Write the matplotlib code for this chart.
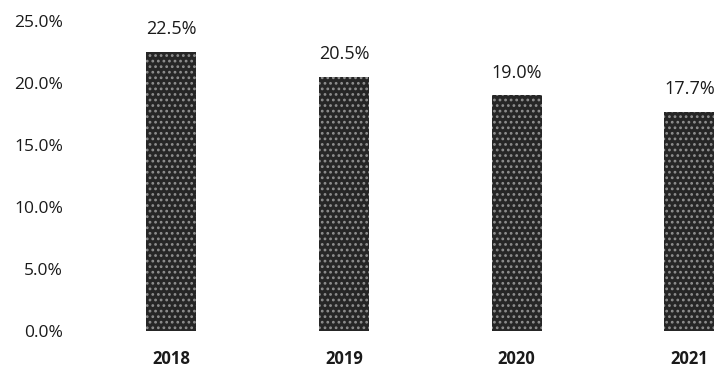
import matplotlib
matplotlib.use("Agg")
import matplotlib.pyplot as plt
from matplotlib.ticker import FuncFormatter

years = ["2018", "2019", "2020", "2021"]
shares = [22.5, 20.5, 19.0, 17.7]
y_ticks = [0, 5, 10, 15, 20, 25]

plt.rcParams["font.family"] = ["Open Sans", "DejaVu Sans"]
plt.rcParams["hatch.linewidth"] = 1.2

fig = plt.figure(figsize=(7.24, 3.69), dpi=100)
ax = fig.add_axes([0.11, 0.103, 0.89, 0.840])

x = list(range(len(years)))
bars = ax.bar(x, shares, width=0.29, color="#262626", edgecolor="#8f8f8f",
              hatch="...", linewidth=0)

for xi, v in zip(x, shares):
    ax.annotate(f"{v:.1f}%", xy=(xi, v), xytext=(0, 16.5),
                textcoords="offset points", ha="center", va="center",
                fontsize=13, color="#1a1a1a")

ax.set_xlim(-0.53, 3.2)
ax.set_ylim(0, 25)
ax.set_yticks(y_ticks)
ax.yaxis.set_major_formatter(FuncFormatter(lambda v, p: f"{v:.1f}%"))
ax.set_xticks(x)
ax.set_xticklabels(years, fontweight="bold", fontsize=12, color="#1a1a1a")
ax.tick_params(axis="y", length=0, labelsize=12.5, labelcolor="#1a1a1a", pad=12)
ax.tick_params(axis="x", length=0, pad=14)
for s in ax.spines.values():
    s.set_visible(False)

fig.savefig("out.png", dpi=100)
